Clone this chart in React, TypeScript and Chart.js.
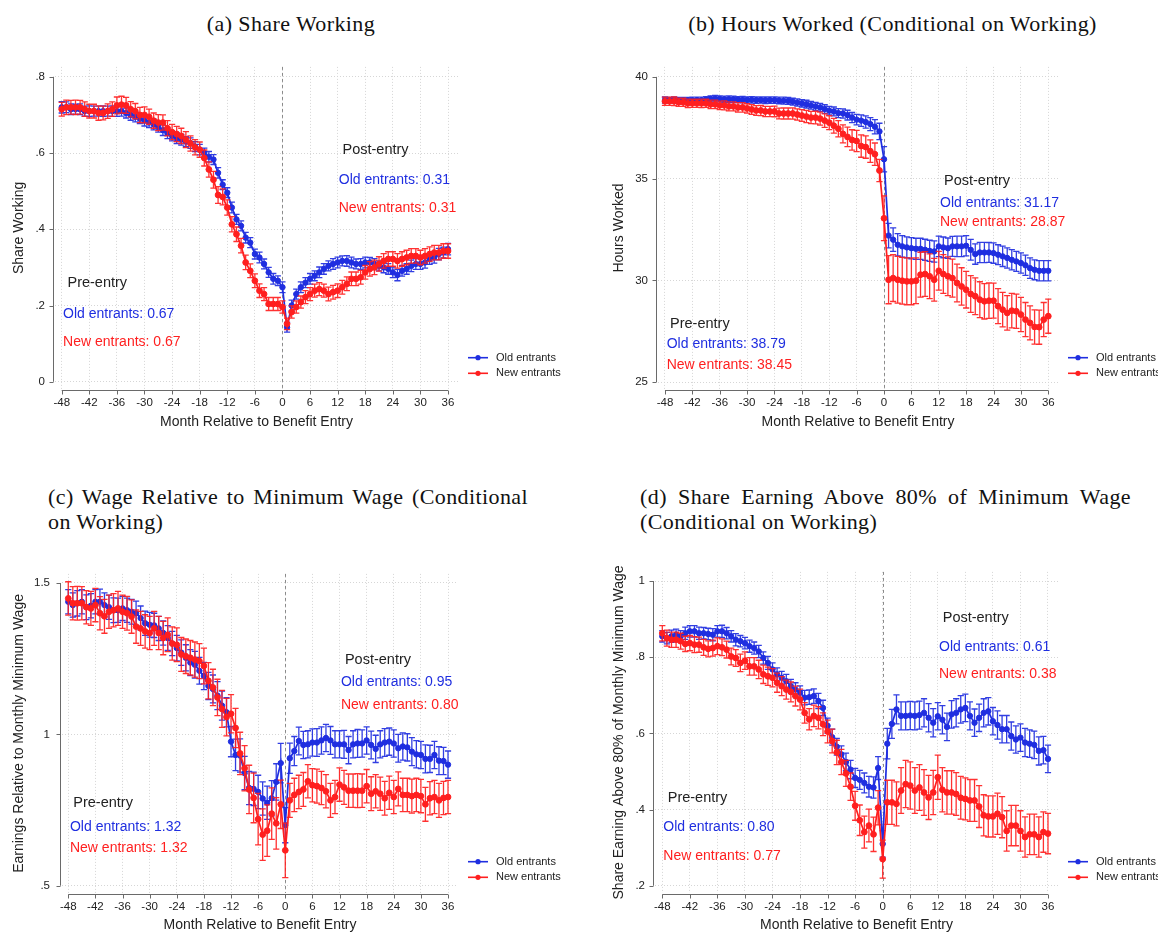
import { useEffect, useRef } from "react";
import { Chart, registerables } from "chart.js";

Chart.register(...registerables);

const SANS = '"Liberation Sans", Arial, Helvetica, sans-serif';
const SERIF = '"Liberation Serif", "Times New Roman", serif';
const BLUE = "#1f2ee0";
const RED = "#ff1f1f";
const INK = "#222222";

// Months relative to benefit entry
const months = [
  -48, -47, -46, -45, -44, -43, -42, -41, -40, -39, -38, -37,
  -36, -35, -34, -33, -32, -31, -30, -29, -28, -27, -26, -25,
  -24, -23, -22, -21, -20, -19, -18, -17, -16, -15, -14, -13,
  -12, -11, -10, -9, -8, -7, -6, -5, -4, -3, -2, -1,
  0, 1, 2, 3, 4, 5, 6, 7, 8, 9, 10, 11,
  12, 13, 14, 15, 16, 17, 18, 19, 20, 21, 22, 23,
  24, 25, 26, 27, 28, 29, 30, 31, 32, 33, 34, 35, 36,
];
const xTicks = [-48, -42, -36, -30, -24, -18, -12, -6, 0, 6, 12, 18, 24, 30, 36];
const xTickLabels = ["-48", "-42", "-36", "-30", "-24", "-18", "-12", "-6", "0", "6", "12", "18", "24", "30", "36"];
const seriesNames = ["Old entrants", "New entrants"];

// (a) Share working
const shareTicks = [0, 0.2, 0.4, 0.6, 0.8];
const shareTickLabels = ["0", ".2", ".4", ".6", ".8"];
const shareOld = [
  0.72, 0.72, 0.715, 0.715, 0.715, 0.71, 0.71, 0.71, 0.71, 0.71, 0.71, 0.71,
  0.71, 0.71, 0.705, 0.7, 0.695, 0.69, 0.685, 0.68, 0.675, 0.668, 0.66, 0.652,
  0.645, 0.639, 0.635, 0.63, 0.626, 0.617, 0.609, 0.6, 0.59, 0.583, 0.548, 0.517,
  0.496, 0.457, 0.426, 0.409, 0.378, 0.365, 0.335, 0.326, 0.309, 0.287, 0.27, 0.265,
  0.248, 0.143, 0.2, 0.23, 0.248, 0.26, 0.27, 0.278, 0.287, 0.296, 0.304, 0.309,
  0.313, 0.317, 0.317, 0.313, 0.309, 0.309, 0.313, 0.313, 0.309, 0.304, 0.3, 0.296,
  0.287, 0.28, 0.291, 0.296, 0.304, 0.309, 0.309, 0.313, 0.322, 0.326, 0.335, 0.339, 0.348,
];
const shareOldCI = [
  0.015, 0.014, 0.014, 0.013, 0.014, 0.013, 0.014, 0.013, 0.013, 0.014, 0.013, 0.014,
  0.014, 0.013, 0.013, 0.014, 0.013, 0.013, 0.014, 0.013, 0.014, 0.013, 0.014, 0.014,
  0.013, 0.014, 0.014, 0.013, 0.014, 0.013, 0.014, 0.013, 0.014, 0.013, 0.014, 0.013,
  0.013, 0.014, 0.013, 0.013, 0.014, 0.013, 0.013, 0.014, 0.013, 0.013, 0.014, 0.013,
  0.014, 0.013, 0.014, 0.013, 0.014, 0.013, 0.014, 0.013, 0.014, 0.014, 0.013, 0.014,
  0.014, 0.013, 0.014, 0.014, 0.013, 0.014, 0.014, 0.013, 0.014, 0.013, 0.014, 0.014,
  0.014, 0.015, 0.014, 0.014, 0.015, 0.014, 0.014, 0.015, 0.014, 0.015, 0.015, 0.014, 0.015,
];
const shareNew = [
  0.715, 0.72, 0.72, 0.72, 0.72, 0.715, 0.71, 0.71, 0.705, 0.705, 0.71, 0.715,
  0.725, 0.727, 0.725, 0.715, 0.71, 0.7, 0.7, 0.695, 0.685, 0.68, 0.68, 0.665,
  0.655, 0.65, 0.645, 0.635, 0.625, 0.615, 0.609, 0.587, 0.557, 0.53, 0.49, 0.485,
  0.457, 0.413, 0.387, 0.357, 0.313, 0.291, 0.265, 0.239, 0.23, 0.204, 0.204, 0.204,
  0.196, 0.152, 0.183, 0.196, 0.209, 0.222, 0.23, 0.239, 0.243, 0.239, 0.23, 0.235,
  0.239, 0.248, 0.257, 0.27, 0.27, 0.274, 0.287, 0.296, 0.3, 0.309, 0.317, 0.322,
  0.322, 0.317, 0.322, 0.326, 0.33, 0.33, 0.326, 0.33, 0.335, 0.339, 0.339, 0.343, 0.343,
];
const shareNewCI = [
  0.018, 0.019, 0.018, 0.019, 0.018, 0.019, 0.018, 0.018, 0.019, 0.018, 0.019, 0.019,
  0.022, 0.022, 0.021, 0.02, 0.02, 0.02, 0.021, 0.02, 0.02, 0.021, 0.02, 0.02,
  0.02, 0.02, 0.02, 0.021, 0.02, 0.02, 0.02, 0.021, 0.02, 0.022, 0.022, 0.021,
  0.02, 0.02, 0.019, 0.019, 0.019, 0.018, 0.018, 0.018, 0.017, 0.017, 0.017, 0.017,
  0.016, 0.015, 0.016, 0.016, 0.016, 0.017, 0.017, 0.017, 0.017, 0.017, 0.018, 0.018,
  0.018, 0.018, 0.018, 0.018, 0.018, 0.018, 0.018, 0.019, 0.019, 0.019, 0.019, 0.019,
  0.019, 0.019, 0.019, 0.019, 0.019, 0.019, 0.019, 0.019, 0.019, 0.019, 0.019, 0.019, 0.019,
];

// (b) Hours worked, conditional on working
const hoursTicks = [25, 30, 35, 40];
const hoursTickLabels = ["25", "30", "35", "40"];
const hoursOld = [
  38.86, 38.85, 38.86, 38.84, 38.85, 38.84, 38.85, 38.86, 38.85, 38.88, 38.92, 38.93,
  38.92, 38.9, 38.9, 38.9, 38.88, 38.88, 38.87, 38.87, 38.86, 38.86, 38.85, 38.86,
  38.86, 38.84, 38.83, 38.82, 38.78, 38.74, 38.7, 38.66, 38.6, 38.55, 38.5, 38.42,
  38.34, 38.3, 38.22, 38.2, 38.12, 38.0, 37.9, 37.85, 37.78, 37.68, 37.55, 37.32,
  35.95, 32.2, 32.0, 31.75, 31.67, 31.62, 31.58, 31.55, 31.55, 31.5, 31.45, 31.42,
  31.67, 31.62, 31.58, 31.67, 31.67, 31.67, 31.7, 31.5, 31.29, 31.37, 31.37, 31.37,
  31.34, 31.26, 31.18, 31.1, 31.01, 30.93, 30.85, 30.74, 30.6, 30.52, 30.47, 30.47, 30.47,
];
const hoursOldCI = [
  0.15, 0.14, 0.15, 0.15, 0.14, 0.15, 0.15, 0.14, 0.15, 0.15, 0.15, 0.16,
  0.15, 0.15, 0.16, 0.15, 0.15, 0.16, 0.15, 0.16, 0.16, 0.15, 0.16, 0.16,
  0.16, 0.16, 0.17, 0.17, 0.17, 0.18, 0.18, 0.19, 0.19, 0.2, 0.2, 0.21,
  0.21, 0.22, 0.22, 0.23, 0.24, 0.25, 0.26, 0.28, 0.3, 0.32, 0.35, 0.4,
  0.62, 0.6, 0.58, 0.55, 0.53, 0.52, 0.52, 0.52, 0.52, 0.52, 0.52, 0.52,
  0.5, 0.51, 0.5, 0.49, 0.5, 0.5, 0.5, 0.51, 0.5, 0.5, 0.5, 0.49,
  0.5, 0.49, 0.5, 0.5, 0.5, 0.49, 0.5, 0.5, 0.5, 0.49, 0.5, 0.5, 0.5,
];
const hoursNew = [
  38.8, 38.8, 38.8, 38.75, 38.75, 38.7, 38.7, 38.7, 38.7, 38.7, 38.65, 38.65,
  38.6, 38.6, 38.55, 38.55, 38.5, 38.5, 38.45, 38.4, 38.35, 38.35, 38.3, 38.3,
  38.3, 38.2, 38.2, 38.2, 38.2, 38.15, 38.1, 38.05, 38.0, 38.0, 37.95, 37.85,
  37.75, 37.6, 37.45, 37.2, 37.05, 36.9, 36.85, 36.6, 36.55, 36.35, 36.2, 35.4,
  33.05, 30.03, 30.11, 30.03, 29.98, 29.95, 29.95, 29.98, 30.28, 30.31, 30.2, 30.03,
  30.47, 30.31, 30.2, 30.11, 29.87, 29.7, 29.54, 29.33, 29.22, 29.05, 28.97, 29.0,
  29.0, 28.73, 28.56, 28.4, 28.51, 28.48, 28.32, 28.07, 27.91, 27.71, 27.7, 28.07, 28.24,
];
const hoursNewCI = [
  0.2, 0.2, 0.21, 0.2, 0.2, 0.21, 0.2, 0.2, 0.21, 0.2, 0.21, 0.21,
  0.21, 0.22, 0.22, 0.22, 0.23, 0.23, 0.23, 0.24, 0.24, 0.25, 0.25, 0.25,
  0.26, 0.26, 0.27, 0.27, 0.28, 0.28, 0.29, 0.3, 0.3, 0.31, 0.32, 0.33,
  0.34, 0.36, 0.4, 0.44, 0.48, 0.5, 0.52, 0.55, 0.55, 0.55, 0.55, 0.55,
  1.1, 1.18, 1.15, 1.15, 1.15, 1.15, 1.15, 1.12, 1.1, 1.1, 1.1, 1.05,
  0.95, 0.95, 0.95, 0.93, 0.93, 0.92, 0.9, 0.9, 0.9, 0.88, 0.87, 0.87,
  0.86, 0.86, 0.85, 0.85, 0.85, 0.84, 0.84, 0.84, 0.84, 0.84, 0.84, 0.84, 0.84,
];

// (c) Earnings relative to the monthly minimum wage, conditional on working
const wageTicks = [0.5, 1, 1.5];
const wageTickLabels = [".5", "1", "1.5"];
const wageOld = [
  1.438, 1.427, 1.433, 1.438, 1.42, 1.425, 1.438, 1.438, 1.427, 1.42, 1.41, 1.41,
  1.416, 1.41, 1.405, 1.4, 1.384, 1.367, 1.362, 1.36, 1.35, 1.335, 1.318, 1.3,
  1.285, 1.27, 1.253, 1.237, 1.23, 1.21, 1.193, 1.16, 1.15, 1.128, 1.095, 1.073,
  0.976, 0.932, 0.93, 0.872, 0.823, 0.82, 0.81, 0.788, 0.774, 0.789, 0.843, 0.905,
  0.7, 0.921, 0.945, 0.978, 0.965, 0.967, 0.973, 0.973, 0.98, 0.988, 0.98, 0.967,
  0.967, 0.967, 0.948, 0.967, 0.97, 0.97, 0.98, 0.965, 0.952, 0.967, 0.973, 0.976,
  0.97, 0.954, 0.96, 0.957, 0.943, 0.934, 0.932, 0.919, 0.919, 0.932, 0.913, 0.912, 0.9,
];
const wageOldCI = [
  0.04, 0.04, 0.042, 0.04, 0.041, 0.04, 0.04, 0.042, 0.04, 0.04, 0.041, 0.04,
  0.04, 0.04, 0.041, 0.04, 0.04, 0.04, 0.041, 0.04, 0.04, 0.04, 0.041, 0.04,
  0.042, 0.042, 0.043, 0.043, 0.044, 0.044, 0.045, 0.045, 0.046, 0.046, 0.048, 0.048,
  0.05, 0.052, 0.055, 0.055, 0.055, 0.055, 0.055, 0.055, 0.055, 0.058, 0.06, 0.065,
  0.058, 0.05, 0.048, 0.046, 0.045, 0.045, 0.045, 0.046, 0.045, 0.045, 0.046, 0.045,
  0.045, 0.046, 0.045, 0.045, 0.046, 0.045, 0.045, 0.046, 0.045, 0.045, 0.046, 0.045,
  0.045, 0.046, 0.045, 0.045, 0.046, 0.045, 0.045, 0.046, 0.045, 0.045, 0.046, 0.045, 0.045,
];
const wageNew = [
  1.449, 1.433, 1.433, 1.433, 1.42, 1.416, 1.427, 1.4, 1.39, 1.405, 1.41, 1.416,
  1.405, 1.4, 1.389, 1.356, 1.35, 1.34, 1.335, 1.35, 1.335, 1.318, 1.329, 1.3,
  1.296, 1.264, 1.258, 1.253, 1.247, 1.242, 1.226, 1.177, 1.155, 1.122, 1.084, 1.057,
  1.068, 1.021, 0.937, 0.888, 0.818, 0.79, 0.72, 0.669, 0.682, 0.738, 0.706, 0.769,
  0.617, 0.782, 0.8, 0.81, 0.818, 0.845, 0.832, 0.829, 0.823, 0.812, 0.782, 0.793,
  0.834, 0.825, 0.814, 0.814, 0.814, 0.814, 0.829, 0.804, 0.812, 0.804, 0.789, 0.807,
  0.793, 0.82, 0.8, 0.8, 0.796, 0.8, 0.796, 0.769, 0.789, 0.793, 0.782, 0.79, 0.793,
];
const wageNewCI = [
  0.055, 0.055, 0.056, 0.055, 0.055, 0.056, 0.055, 0.055, 0.056, 0.055, 0.055, 0.056,
  0.055, 0.056, 0.055, 0.055, 0.056, 0.055, 0.055, 0.056, 0.055, 0.055, 0.056, 0.055,
  0.056, 0.056, 0.057, 0.057, 0.058, 0.058, 0.059, 0.06, 0.06, 0.06, 0.061, 0.062,
  0.063, 0.065, 0.07, 0.075, 0.08, 0.082, 0.085, 0.085, 0.085, 0.085, 0.085, 0.08,
  0.09, 0.056, 0.055, 0.055, 0.056, 0.055, 0.055, 0.056, 0.055, 0.055, 0.056, 0.055,
  0.055, 0.056, 0.055, 0.055, 0.056, 0.055, 0.055, 0.056, 0.055, 0.055, 0.056, 0.055,
  0.055, 0.056, 0.055, 0.055, 0.056, 0.055, 0.055, 0.056, 0.055, 0.055, 0.056, 0.055, 0.055,
];

// (d) Share earning above 80% of the monthly minimum wage, conditional on working
const aboveTicks = [0.2, 0.4, 0.6, 0.8, 1];
const aboveTickLabels = [".2", ".4", ".6", ".8", "1"];
const aboveOld = [
  0.855, 0.85, 0.855, 0.859, 0.855, 0.863, 0.868, 0.868, 0.863, 0.863, 0.861, 0.859,
  0.868, 0.868, 0.863, 0.855, 0.846, 0.842, 0.837, 0.829, 0.824, 0.815, 0.798, 0.785,
  0.768, 0.755, 0.746, 0.737, 0.724, 0.715, 0.707, 0.694, 0.695, 0.698, 0.685, 0.667,
  0.62, 0.59, 0.565, 0.545, 0.525, 0.505, 0.483, 0.478, 0.47, 0.46, 0.458, 0.509,
  0.31, 0.573, 0.625, 0.663, 0.646, 0.646, 0.647, 0.646, 0.648, 0.654, 0.641, 0.628,
  0.645, 0.636, 0.617, 0.65, 0.654, 0.663, 0.667, 0.646, 0.628, 0.641, 0.654, 0.658,
  0.632, 0.622, 0.611, 0.611, 0.593, 0.584, 0.589, 0.576, 0.573, 0.57, 0.554, 0.556, 0.533,
];
const aboveOldCI = [
  0.015, 0.015, 0.016, 0.015, 0.015, 0.016, 0.015, 0.015, 0.016, 0.015, 0.015, 0.016,
  0.015, 0.016, 0.015, 0.015, 0.016, 0.015, 0.015, 0.016, 0.016, 0.016, 0.016, 0.017,
  0.017, 0.017, 0.017, 0.018, 0.018, 0.018, 0.018, 0.019, 0.019, 0.019, 0.02, 0.02,
  0.02, 0.021, 0.022, 0.022, 0.023, 0.024, 0.025, 0.025, 0.026, 0.027, 0.028, 0.03,
  0.035, 0.04, 0.038, 0.038, 0.037, 0.037, 0.037, 0.037, 0.037, 0.037, 0.037, 0.037,
  0.036, 0.037, 0.036, 0.036, 0.037, 0.036, 0.036, 0.037, 0.036, 0.036, 0.037, 0.036,
  0.036, 0.037, 0.036, 0.036, 0.037, 0.036, 0.036, 0.037, 0.036, 0.036, 0.037, 0.036, 0.036,
];
const aboveNew = [
  0.863, 0.85, 0.846, 0.846, 0.842, 0.835, 0.837, 0.833, 0.833, 0.826, 0.822, 0.824,
  0.829, 0.826, 0.82, 0.802, 0.798, 0.785, 0.791, 0.776, 0.776, 0.768, 0.755, 0.75,
  0.746, 0.733, 0.724, 0.715, 0.709, 0.698, 0.689, 0.654, 0.637, 0.646, 0.641, 0.624,
  0.605, 0.58, 0.55, 0.525, 0.495, 0.46, 0.41, 0.372, 0.341, 0.358, 0.335, 0.405,
  0.27, 0.419, 0.419, 0.415, 0.45, 0.467, 0.463, 0.45, 0.458, 0.445, 0.432, 0.445,
  0.485, 0.452, 0.445, 0.445, 0.441, 0.431, 0.428, 0.424, 0.424, 0.408, 0.385, 0.382,
  0.382, 0.389, 0.38, 0.344, 0.358, 0.358, 0.344, 0.328, 0.335, 0.335, 0.328, 0.341, 0.337,
];
const aboveNewCI = [
  0.02, 0.021, 0.02, 0.02, 0.021, 0.02, 0.02, 0.021, 0.02, 0.021, 0.021, 0.021,
  0.022, 0.022, 0.022, 0.022, 0.022, 0.023, 0.023, 0.023, 0.023, 0.024, 0.024, 0.024,
  0.024, 0.025, 0.025, 0.025, 0.026, 0.026, 0.027, 0.027, 0.028, 0.028, 0.029, 0.03,
  0.03, 0.031, 0.032, 0.033, 0.034, 0.036, 0.038, 0.04, 0.042, 0.043, 0.045, 0.045,
  0.05, 0.058, 0.058, 0.058, 0.06, 0.062, 0.062, 0.06, 0.06, 0.06, 0.058, 0.058,
  0.058, 0.058, 0.057, 0.057, 0.056, 0.056, 0.055, 0.055, 0.055, 0.055, 0.054, 0.054,
  0.054, 0.054, 0.054, 0.053, 0.053, 0.053, 0.053, 0.053, 0.053, 0.053, 0.053, 0.053, 0.053,
];

type Box = { left: number; top: number; width: number; height: number };
type Area = { left: number; top: number; right: number; bottom: number };
type Note = { text: string; color: string; x: number; y: number; size: number };

type PanelSpec = {
  box: Box;
  area: Area;
  xRange: [number, number];
  yRange: [number, number];
  yTicks: number[];
  yTickLabels: string[];
  yLabelPad: number;
  yTitle: string;
  yTitleX: number;
  xTitleY: number;
  oldMean: number[];
  oldCI: number[];
  newMean: number[];
  newCI: number[];
  notes: Note[];
};

function entryNotes(
  pre: [number, number, number],
  post: [number, number, number],
  preVals: [string, string],
  postVals: [string, string],
  preX: [number, number],
  postX: [number, number]
): Note[] {
  return [
    { text: "Post-entry", color: INK, x: postX[0], y: post[0], size: 14.5 },
    { text: `Old entrants: ${postVals[0]}`, color: BLUE, x: postX[1], y: post[1], size: 14 },
    { text: `New entrants: ${postVals[1]}`, color: RED, x: postX[1], y: post[2], size: 14 },
    { text: "Pre-entry", color: INK, x: preX[0], y: pre[0], size: 14.5 },
    { text: `Old entrants: ${preVals[0]}`, color: BLUE, x: preX[1], y: pre[1], size: 14 },
    { text: `New entrants: ${preVals[1]}`, color: RED, x: preX[1], y: pre[2], size: 14 },
  ];
}

const panels: PanelSpec[] = [
  {
    box: { left: 0, top: 50, width: 580, height: 390 },
    area: { left: 55, top: 65, right: 458, bottom: 389 },
    xRange: [-49.46, 38.17],
    yRange: [-0.019, 0.826],
    yTicks: shareTicks,
    yTickLabels: shareTickLabels,
    yLabelPad: 10,
    yTitle: "Share Working",
    yTitleX: 19,
    xTitleY: 421.7,
    oldMean: shareOld,
    oldCI: shareOldCI,
    newMean: shareNew,
    newCI: shareNewCI,
    notes: entryNotes([0.258, 0.178, 0.104], [0.609, 0.53, 0.456], ["0.67", "0.67"], ["0.31", "0.31"], [-46.75, -47.7], [13.05, 12.24]),
  },
  {
    box: { left: 590, top: 50, width: 568, height: 390 },
    area: { left: 658, top: 65, right: 1058, bottom: 389 },
    xRange: [-49.53, 38.13],
    yRange: [24.66, 40.49],
    yTicks: hoursTicks,
    yTickLabels: hoursTickLabels,
    yLabelPad: 10,
    yTitle: "Hours Worked",
    yTitleX: 619,
    xTitleY: 421.7,
    oldMean: hoursOld,
    oldCI: hoursOldCI,
    newMean: hoursNew,
    newCI: hoursNewCI,
    notes: entryNotes([27.87, 26.86, 25.83], [34.9, 33.81, 32.87], ["38.79", "38.45"], ["31.17", "28.87"], [-46.9, -47.62], [13.15, 12.27]),
  },
  {
    box: { left: 0, top: 555, width: 580, height: 385 },
    area: { left: 62, top: 570, right: 458, bottom: 893 },
    xRange: [-49.39, 38.21],
    yRange: [0.476, 1.53],
    yTicks: wageTicks,
    yTickLabels: wageTickLabels,
    yLabelPad: 12,
    yTitle: "Earnings Relative to Monthly Minimum Wage",
    yTitleX: 19,
    xTitleY: 925,
    oldMean: wageOld,
    oldCI: wageOldCI,
    newMean: wageNew,
    newCI: wageNewCI,
    notes: entryNotes([0.774, 0.693, 0.625], [1.247, 1.171, 1.095], ["1.32", "1.32"], ["0.95", "0.80"], [-46.9, -47.63], [13.2, 12.32]),
  },
  {
    box: { left: 590, top: 555, width: 568, height: 385 },
    area: { left: 655, top: 570, right: 1058, bottom: 893 },
    xRange: [-49.59, 38.18],
    yRange: [0.181, 1.024],
    yTicks: aboveTicks,
    yTickLabels: aboveTickLabels,
    yLabelPad: 10,
    yTitle: "Share Earning Above 80% of Monthly Minimum Wage",
    yTitleX: 619,
    xTitleY: 925,
    oldMean: aboveOld,
    oldCI: aboveOldCI,
    newMean: aboveNew,
    newCI: aboveNewCI,
    notes: entryNotes([0.43, 0.354, 0.278], [0.904, 0.827, 0.755], ["0.80", "0.77"], ["0.61", "0.38"], [-46.82, -47.78], [13.07, 12.26]),
  },
];

function makeDecor(spec: PanelSpec, cis: number[][]) {
  return {
    id: "panelDecor",
    beforeDatasetsDraw(chart: any) {
      const { ctx, chartArea } = chart;
      const xs = chart.scales.x;
      const ys = chart.scales.y;
      ctx.save();
      // benefit entry marker
      const x0 = Math.round(xs.getPixelForValue(0)) + 0.5;
      ctx.strokeStyle = "#8a8a8a";
      ctx.lineWidth = 1;
      ctx.setLineDash([3, 3]);
      ctx.beginPath();
      ctx.moveTo(x0, chartArea.top);
      ctx.lineTo(x0, chartArea.bottom);
      ctx.stroke();
      ctx.setLineDash([]);
      // axis lines spanning the tick range, with outward ticks
      ctx.strokeStyle = "#6a6a6a";
      const ax = Math.round(chartArea.left - 2) + 0.5;
      const ay = Math.round(chartArea.bottom + 1) + 0.5;
      ctx.beginPath();
      ctx.moveTo(ax, ys.getPixelForValue(spec.yTicks[0]));
      ctx.lineTo(ax, ys.getPixelForValue(spec.yTicks[spec.yTicks.length - 1]));
      for (const v of spec.yTicks) {
        const p = Math.round(ys.getPixelForValue(v)) + 0.5;
        ctx.moveTo(ax - 4, p);
        ctx.lineTo(ax, p);
      }
      ctx.moveTo(xs.getPixelForValue(xTicks[0]), ay);
      ctx.lineTo(xs.getPixelForValue(xTicks[xTicks.length - 1]), ay);
      for (const v of xTicks) {
        const p = Math.round(xs.getPixelForValue(v)) + 0.5;
        ctx.moveTo(p, ay);
        ctx.lineTo(p, ay + 4);
      }
      ctx.stroke();
      ctx.restore();
    },
    beforeDatasetDraw(chart: any, args: any) {
      const ci = cis[args.index];
      if (!ci) return;
      const ds = chart.data.datasets[args.index];
      const { ctx } = chart;
      const xs = chart.scales.x;
      const ys = chart.scales.y;
      ctx.save();
      ctx.strokeStyle = ds.borderColor;
      ctx.globalAlpha = 0.92;
      ctx.lineWidth = 1.3;
      ctx.beginPath();
      ds.data.forEach((p: { x: number; y: number }, i: number) => {
        const px = xs.getPixelForValue(p.x);
        const lo = ys.getPixelForValue(p.y - ci[i]);
        const hi = ys.getPixelForValue(p.y + ci[i]);
        ctx.moveTo(px, lo);
        ctx.lineTo(px, hi);
        ctx.moveTo(px - 3.1, lo);
        ctx.lineTo(px + 3.1, lo);
        ctx.moveTo(px - 3.1, hi);
        ctx.lineTo(px + 3.1, hi);
      });
      ctx.stroke();
      ctx.restore();
    },
    afterDraw(chart: any) {
      const { ctx, chartArea } = chart;
      const xs = chart.scales.x;
      const ys = chart.scales.y;
      ctx.save();
      // y axis title
      ctx.translate(spec.yTitleX - spec.box.left, (chartArea.top + chartArea.bottom) / 2);
      ctx.rotate(-Math.PI / 2);
      ctx.font = `14px ${SANS}`;
      ctx.fillStyle = INK;
      ctx.textAlign = "center";
      ctx.textBaseline = "middle";
      ctx.fillText(spec.yTitle, 0, 0);
      ctx.restore();

      // pre/post means
      ctx.save();
      ctx.textAlign = "left";
      ctx.textBaseline = "middle";
      for (const n of spec.notes) {
        ctx.font = `${n.size}px ${SANS}`;
        ctx.fillStyle = n.color;
        ctx.fillText(n.text, xs.getPixelForValue(n.x), ys.getPixelForValue(n.y));
      }
      ctx.restore();

      // legend
      ctx.save();
      const colors = [BLUE, RED];
      const rows = [chartArea.bottom - 31.3, chartArea.bottom - 15.7];
      const lx = chartArea.right + 10;
      ctx.font = `11px ${SANS}`;
      ctx.textBaseline = "middle";
      ctx.textAlign = "left";
      seriesNames.forEach((name, i) => {
        const y = rows[i];
        ctx.strokeStyle = colors[i];
        ctx.fillStyle = colors[i];
        ctx.lineWidth = 1.6;
        ctx.beginPath();
        ctx.moveTo(lx, y);
        ctx.lineTo(lx + 20, y);
        ctx.stroke();
        ctx.beginPath();
        ctx.arc(lx + 10, y, 2.6, 0, Math.PI * 2);
        ctx.fill();
        ctx.fillStyle = INK;
        ctx.fillText(name, lx + 28, y);
      });
      ctx.restore();
    },
  };
}

function buildConfig(spec: PanelSpec): any {
  const { box, area } = spec;
  const yWidth = area.left - box.left;
  const xHeight = box.top + box.height - area.bottom;
  const xTitlePad = box.top + box.height - spec.xTitleY - 8.4;
  const gridColor = "#d6d6d6";
  return {
    type: "line",
    data: {
      datasets: [
        {
          label: seriesNames[0],
          data: months.map((m, i) => ({ x: m, y: spec.oldMean[i] })),
          borderColor: BLUE,
          backgroundColor: BLUE,
          pointBackgroundColor: BLUE,
          pointBorderColor: BLUE,
          pointRadius: 2.7,
          pointBorderWidth: 1,
          borderWidth: 1.7,
          tension: 0,
          order: 1,
        },
        {
          label: seriesNames[1],
          data: months.map((m, i) => ({ x: m, y: spec.newMean[i] })),
          borderColor: RED,
          backgroundColor: RED,
          pointBackgroundColor: RED,
          pointBorderColor: RED,
          pointRadius: 2.9,
          pointBorderWidth: 1,
          borderWidth: 1.7,
          tension: 0,
          order: 0,
        },
      ],
    },
    options: {
      animation: false,
      responsive: false,
      events: [],
      layout: {
        padding: { left: 0, top: area.top - box.top, right: box.left + box.width - area.right, bottom: 0 },
      },
      plugins: { legend: { display: false }, tooltip: { enabled: false } },
      scales: {
        x: {
          type: "linear",
          bounds: "data",
          min: spec.xRange[0],
          max: spec.xRange[1],
          afterBuildTicks: (s: any) => {
            s.ticks = xTicks.map((v) => ({ value: v }));
          },
          afterFit: (s: any) => {
            s.height = xHeight;
          },
          grid: { color: gridColor, lineWidth: 1, drawTicks: false },
          border: { display: false, dash: [1, 2] },
          ticks: {
            autoSkip: false,
            maxRotation: 0,
            padding: 7,
            color: INK,
            font: { family: SANS, size: 11.5 },
            callback: (_v: any, i: number) => xTickLabels[i],
          },
          title: {
            display: true,
            text: "Month Relative to Benefit Entry",
            color: INK,
            font: { family: SANS, size: 14 },
            padding: { top: 0, bottom: xTitlePad },
          },
        },
        y: {
          type: "linear",
          bounds: "data",
          min: spec.yRange[0],
          max: spec.yRange[1],
          afterBuildTicks: (s: any) => {
            s.ticks = spec.yTicks.map((v) => ({ value: v }));
          },
          afterFit: (s: any) => {
            s.width = yWidth;
          },
          grid: { color: gridColor, lineWidth: 1, drawTicks: false },
          border: { display: false, dash: [1, 2] },
          ticks: {
            padding: spec.yLabelPad,
            color: INK,
            font: { family: SANS, size: 11.5 },
            callback: (_v: any, i: number) => spec.yTickLabels[i],
          },
        },
      },
    },
    plugins: [makeDecor(spec, [spec.oldCI, spec.newCI])],
  };
}

function Panel({ spec }: { spec: PanelSpec }) {
  const ref = useRef<HTMLCanvasElement>(null);
  useEffect(() => {
    if (!ref.current) return;
    const chart = new Chart(ref.current, buildConfig(spec));
    return () => chart.destroy();
  }, [spec]);
  return (
    <canvas
      ref={ref}
      width={spec.box.width}
      height={spec.box.height}
      style={{
        position: "absolute",
        left: spec.box.left,
        top: spec.box.top,
        width: spec.box.width,
        height: spec.box.height,
      }}
    />
  );
}

const titleFont = {
  position: "absolute" as const,
  fontFamily: SERIF,
  fontSize: 22,
  lineHeight: "22px",
  letterSpacing: "0.4px",
  color: "#111",
  whiteSpace: "nowrap" as const,
};

export default function App() {
  return (
    <div
      style={{
        position: "absolute",
        left: 0,
        top: 0,
        width: 1158,
        height: 932,
        overflow: "hidden",
        background: "#ffffff",
      }}
    >
      <div style={{ ...titleFont, left: 0, top: 13, width: 582, textAlign: "center" }}>(a) Share Working</div>
      <div style={{ ...titleFont, left: 592, top: 13, width: 601, textAlign: "center" }}>
        (b) Hours Worked (Conditional on Working)
      </div>
      <div style={{ ...titleFont, left: 48, top: 486, width: 480, textAlign: "justify", textAlignLast: "justify" }}>
        (c) Wage Relative to Minimum Wage (Conditional
      </div>
      <div style={{ ...titleFont, left: 48, top: 511, textAlign: "left" }}>on Working)</div>
      <div style={{ ...titleFont, left: 640, top: 486, width: 491, textAlign: "justify", textAlignLast: "justify" }}>
        (d) Share Earning Above 80% of Minimum Wage
      </div>
      <div style={{ ...titleFont, left: 640, top: 511, textAlign: "left" }}>(Conditional on Working)</div>
      {panels.map((p, i) => (
        <Panel key={i} spec={p} />
      ))}
    </div>
  );
}
